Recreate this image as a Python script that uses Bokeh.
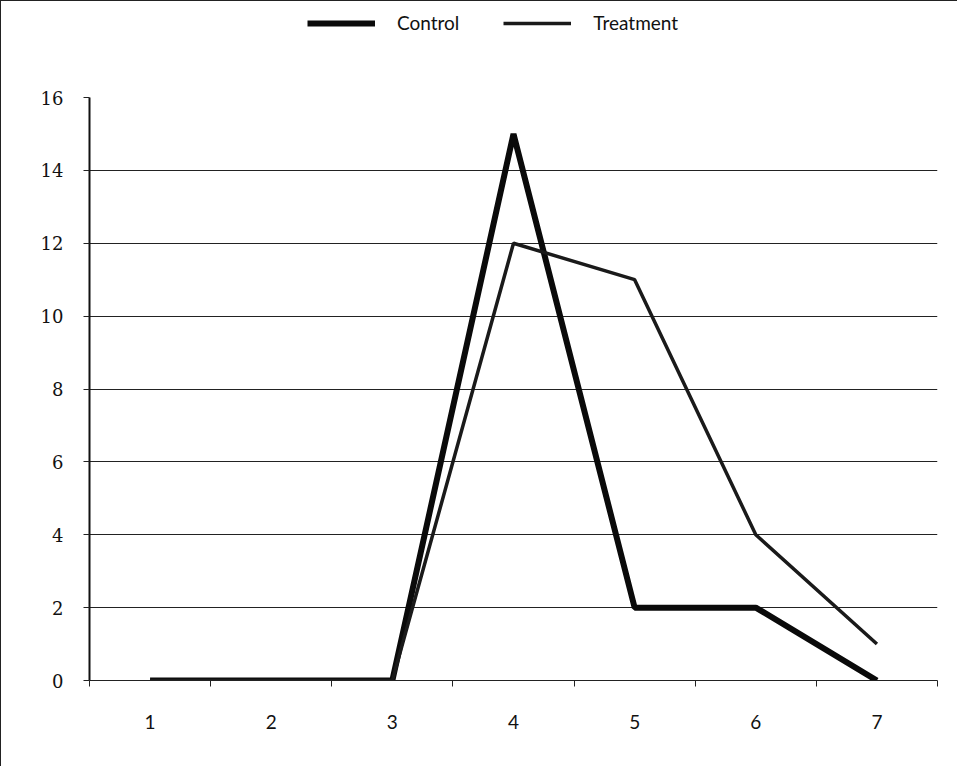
from bokeh.plotting import figure
from bokeh.models import FixedTicker, Legend, LegendItem, Range1d
from bokeh.layouts import column
from bokeh.embed import file_html
from bokeh.resources import INLINE

categories = [1, 2, 3, 4, 5, 6, 7]
control = [0, 0, 0, 15, 2, 2, 0]
treatment = [0, 0, 0, 12, 11, 4, 1]
y_ticks = [0, 2, 4, 6, 8, 10, 12, 14, 16]
series_names = ["Control", "Treatment"]

CONTROL_STYLE = dict(line_color="#0a0a0a", line_width=6)
TREAT_STYLE = dict(line_color="#1a1a1a", line_width=3.5)

p = figure(width=956, height=681, output_backend="svg", toolbar_location=None,
           x_range=Range1d(0.5, 7.5), y_range=Range1d(0, 16),
           min_border_left=88, min_border_right=20, min_border_top=12, min_border_bottom=86)
p.outline_line_color = None
p.background_fill_color = "white"
p.border_fill_color = "white"

p.xaxis.ticker = FixedTicker(ticks=categories, minor_ticks=[c - 0.5 for c in categories] + [7.5])
p.xaxis.major_tick_out = 0
p.xaxis.major_tick_in = 0
p.xaxis.minor_tick_out = 6
p.xaxis.minor_tick_in = 0
p.xaxis.minor_tick_line_color = "#222"
p.xaxis.axis_line_color = "#222"
p.xaxis.axis_line_width = 1
p.xaxis.major_label_standoff = 28
p.xaxis.major_label_text_font = "Lato"
p.xaxis.major_label_text_font_size = "19px"
p.xaxis.major_label_text_color = "#111"

p.yaxis.ticker = FixedTicker(ticks=y_ticks, minor_ticks=[])
p.yaxis.major_tick_out = 6
p.yaxis.major_tick_in = 0
p.yaxis.major_tick_line_color = "#222"
p.yaxis.axis_line_color = "#111"
p.yaxis.axis_line_width = 2
p.yaxis.major_label_standoff = 20
p.yaxis.major_label_text_font = "DejaVu Serif"
p.yaxis.major_label_text_font_size = "18px"
p.yaxis.major_label_text_color = "#111"

p.xgrid.visible = False
p.ygrid.ticker = FixedTicker(ticks=y_ticks)
p.ygrid.grid_line_color = "#222"
p.ygrid.grid_line_width = 1

p.line(categories, control, **CONTROL_STYLE)
p.line(categories, treatment, **TREAT_STYLE)

# legend strip above the plot (proxy lines drawn from the same data, kept out of view)
pl = figure(width=956, height=84, output_backend="svg", toolbar_location=None,
            x_range=Range1d(100, 101), y_range=Range1d(100, 101),
            x_axis_location=None, y_axis_location=None,
            min_border_left=0, min_border_right=0, min_border_top=0, min_border_bottom=0)
pl.outline_line_color = None
pl.xgrid.visible = False
pl.ygrid.visible = False
l1 = pl.line(categories, control, **CONTROL_STYLE)
l2 = pl.line(categories, treatment, **TREAT_STYLE)
legend = Legend(items=[LegendItem(label=series_names[0], renderers=[l1]),
                       LegendItem(label=series_names[1], renderers=[l2])],
                orientation="horizontal", location=(218, 51),
                glyph_width=68, glyph_height=20, label_standoff=22, spacing=44,
                padding=5, margin=0,
                label_text_font="Lato", label_text_font_size="19px",
                label_text_color="#111",
                background_fill_alpha=0, border_line_color=None)
pl.add_layout(legend, "center")

layout = column(pl, p, spacing=0)
layout.styles = {"border-left": "1px solid #222", "border-top": "1px solid #222"}

open("out.html", "w").write(file_html(layout, INLINE))
